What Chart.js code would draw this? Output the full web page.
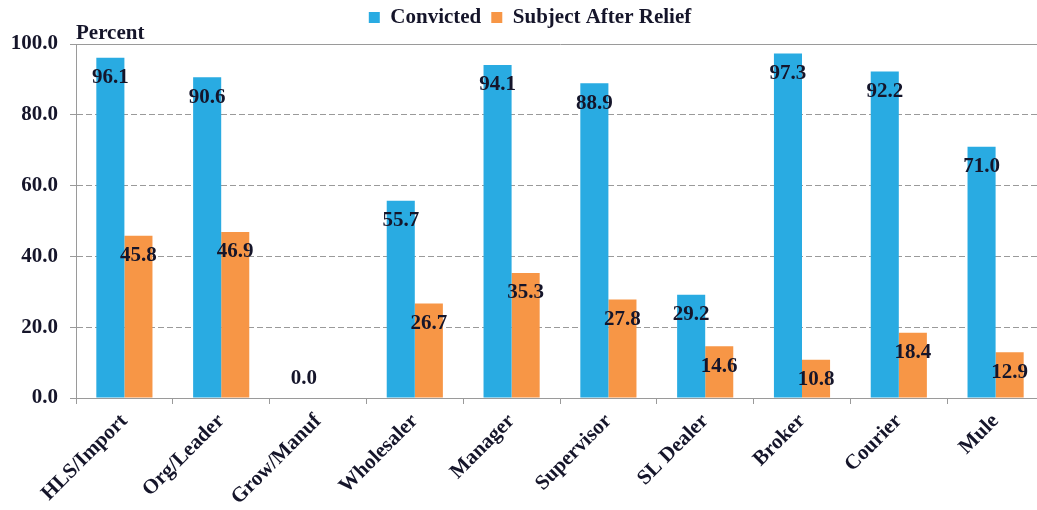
<!DOCTYPE html>
<html>
<head>
<meta charset="utf-8">
<script src="https://cdn.jsdelivr.net/npm/chart.js@4/dist/chart.umd.min.js"></script>
<style>
  html, body { margin: 0; padding: 0; background: #fff; overflow: hidden; }
  #wrap { width: 1050px; height: 510px; }
</style>
</head>
<body>
<div id="wrap"><canvas id="chart" width="1050" height="510"></canvas></div>
<script>
var categories = ['HLS/Import', 'Org/Leader', 'Grow/Manuf', 'Wholesaler', 'Manager',
                  'Supervisor', 'SL Dealer', 'Broker', 'Courier', 'Mule'];
var convicted = [96.1, 90.6, 0.0, 55.7, 94.1, 88.9, 29.2, 97.3, 92.2, 71.0];
var subjectAfterRelief = [45.8, 46.9, null, 26.7, 35.3, 27.8, 14.6, 10.8, 18.4, 12.9];
var yTicks = [0, 20, 40, 60, 80, 100];

var serif = '"Liberation Serif", "Times New Roman", serif';
var textColor = '#15152a';
var gridColor = '#9a9a9a';

// value labels sit just under the bar top (zero values sit above the baseline)
var barValueLabels = {
    id: 'barValueLabels',
    afterDatasetsDraw: function (chart) {
        var ctx = chart.ctx;
        ctx.save();
        ctx.font = 'bold 21px ' + serif;
        ctx.fillStyle = textColor;
        ctx.textAlign = 'center';
        ctx.textBaseline = 'middle';
        chart.data.datasets.forEach(function (ds, i) {
            chart.getDatasetMeta(i).data.forEach(function (bar, j) {
                var v = ds.data[j];
                if (v === null || v === undefined) return;
                var y = v === 0 ? bar.base - 19 : bar.y + 20;
                ctx.fillText(v.toFixed(1), bar.x, y);
            });
        });
        ctx.restore();
    }
};

// "Percent" caption above the top left of the plot; legend nudged up and right a bit
var percentCaption = {
    id: 'percentCaption',
    afterLayout: function (chart) {
        if (chart.legend) {
            chart.legend.top -= 6;
            chart.legend.bottom -= 6;
            chart.legend.left += 8;
            chart.legend.right += 8;
        }
    },
    afterDraw: function (chart) {
        var ctx = chart.ctx;
        var area = chart.chartArea;
        ctx.save();
        ctx.font = 'bold 21px ' + serif;
        ctx.fillStyle = textColor;
        ctx.textAlign = 'left';
        ctx.textBaseline = 'alphabetic';
        ctx.fillText('Percent', area.left, area.top - 5);
        ctx.restore();
    }
};

var config = {
    type: 'bar',
    data: {
        labels: categories,
        datasets: [
            {
                label: 'Convicted',
                data: convicted,
                backgroundColor: '#29ABE2',
                borderWidth: 0,
                categoryPercentage: 0.58,
                barPercentage: 1.0
            },
            {
                label: 'Subject After Relief',
                data: subjectAfterRelief,
                backgroundColor: '#F79646',
                borderWidth: 0,
                categoryPercentage: 0.58,
                barPercentage: 1.0
            }
        ]
    },
    options: {
        responsive: false,
        animation: false,
        layout: {
            padding: { top: 0, right: 6, bottom: 0, left: 0 }
        },
        plugins: {
            legend: {
                position: 'top',
                labels: {
                    boxWidth: 11,
                    boxHeight: 11,
                    padding: 10,
                    color: textColor,
                    font: { family: serif, size: 21, weight: 'bold' }
                }
            },
            title: { display: false },
            tooltip: { enabled: false }
        },
        scales: {
            x: {
                offset: true,
                grid: {
                    offset: true,
                    drawOnChartArea: false,
                    drawTicks: true,
                    tickLength: 6,
                    color: gridColor
                },
                border: { color: gridColor, width: 1 },
                ticks: {
                    autoSkip: false,
                    minRotation: 45,
                    maxRotation: 45,
                    padding: 5,
                    color: textColor,
                    font: { family: serif, size: 21, weight: 'bold' }
                },
                afterFit: function (scale) {
                    scale.height = 112;
                }
            },
            y: {
                min: 0,
                max: 100,
                afterBuildTicks: function (scale) {
                    scale.ticks = yTicks.map(function (v) { return { value: v }; });
                },
                grid: {
                    color: gridColor,
                    lineWidth: 1,
                    tickLength: 6,
                    tickColor: gridColor
                },
                border: {
                    color: gridColor,
                    width: 1,
                    dash: function (ctx) {
                        if (!ctx.tick) return [];
                        return (ctx.tick.value === 100 || ctx.tick.value === 0) ? [] : [6, 3];
                    }
                },
                ticks: {
                    padding: 12,
                    color: textColor,
                    font: { family: serif, size: 21, weight: 'bold' },
                    callback: function (v) { return Number(v).toFixed(1); }
                },
                afterFit: function (scale) {
                    scale.width = 76;
                    scale.paddingTop = 44;
                }
            }
        }
    },
    plugins: [barValueLabels, percentCaption]
};

new Chart(document.getElementById('chart'), config);
</script>
</body>
</html>
